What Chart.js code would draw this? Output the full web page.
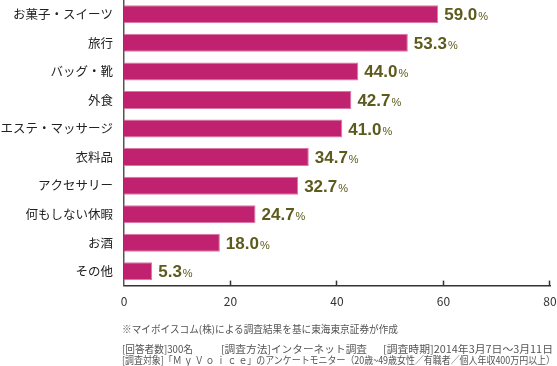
<!DOCTYPE html>
<html>
<head>
<meta charset="utf-8">
<script src="https://cdn.jsdelivr.net/npm/chart.js@4.4.1/dist/chart.umd.min.js"></script>
<style>
  html, body { margin: 0; padding: 0; background: #fff; }
  #wrap { position: relative; width: 557px; height: 366px; overflow: hidden; }
  #chart { position: absolute; left: 0; top: 0; }
  .note {
    position: absolute; white-space: nowrap; color: #555;
    font-family: "Noto Sans CJK JP", sans-serif; font-size: 10px; line-height: 12px;
    transform-origin: 0 50%;
  }
</style>
</head>
<body>
<div id="wrap">
  <canvas id="chart" width="557" height="366"></canvas>
  <div class="note" data-x="122" data-y="329" data-w="276">※マイボイスコム(株)による調査結果を基に東海東京証券が作成</div>
  <div class="note" data-x="122" data-y="349" data-w="71">[回答者数]300名</div>
  <div class="note" data-x="221" data-y="349" data-w="146">[調査方法]インターネット調査</div>
  <div class="note" data-x="383" data-y="349" data-w="170">[調査時期]2014年3月7日～3月11日</div>
  <div class="note" data-x="122" data-y="360" data-w="433">[調査対象]「Ｍ ｙ Ｖ ｏ ｉ ｃ ｅ」のアンケートモニター（20歳~49歳女性／有職者／個人年収400万円以上）</div>
</div>
<script>
// データ
const categories = ['お菓子・スイーツ', '旅行', 'バッグ・靴', '外食', 'エステ・マッサージ', '衣料品', 'アクセサリー', '何もしない休暇', 'お酒', 'その他'];
const values = [59.0, 53.3, 44.0, 42.7, 41.0, 34.7, 32.7, 24.7, 18.0, 5.3];
const xTicks = [0, 20, 40, 60, 80];

// 注記の位置合わせ
document.querySelectorAll('.note').forEach(function(el) {
    const w = el.getBoundingClientRect().width;
    const sx = parseFloat(el.dataset.w) / w;
    el.style.left = el.dataset.x + 'px';
    el.style.top = (parseFloat(el.dataset.y) - 6) + 'px';
    el.style.transform = 'scaleX(' + sx + ')';
});

// 軸の内側の目盛り
const innerTicks = {
    id: 'innerTicks',
    afterDraw(chart) {
        const ctx = chart.ctx;
        const xs = chart.scales.x;
        const bottom = chart.chartArea.bottom;
        ctx.save();
        ctx.strokeStyle = '#333';
        ctx.lineWidth = 1.5;
        xTicks.slice(1).forEach(function(v) {
            const px = Math.round(xs.getPixelForValue(v)) - 0.5;
            ctx.beginPath();
            ctx.moveTo(px, bottom);
            ctx.lineTo(px, bottom - 5);
            ctx.stroke();
        });
        ctx.restore();
    }
};

// 数値ラベル
const valueLabels = {
    id: 'valueLabels',
    afterDatasetsDraw(chart) {
        const ctx = chart.ctx;
        const meta = chart.getDatasetMeta(0);
        ctx.save();
        ctx.fillStyle = '#5c5a1c';
        ctx.textBaseline = 'alphabetic';
        ctx.textAlign = 'left';
        meta.data.forEach(function(bar, i) {
            const x = bar.x + 6;
            const y = bar.y + 6;
            ctx.font = 'bold 17px "Liberation Sans", Arial, sans-serif';
            const txt = values[i].toFixed(1);
            ctx.fillText(txt, x, y);
            const w = ctx.measureText(txt).width;
            ctx.font = '11px "Liberation Sans", Arial, sans-serif';
            ctx.fillText('%', x + w + 1, y);
        });
        ctx.restore();
    }
};

new Chart(document.getElementById('chart'), {
    type: 'bar',
    data: {
        labels: categories,
        datasets: [{
            data: values,
            backgroundColor: '#c0226f',
            borderColor: '#d977a6',
            borderWidth: 1,
            borderSkipped: 'left',
            barPercentage: 0.63,
            categoryPercentage: 1
        }]
    },
    options: {
        indexAxis: 'y',
        responsive: false,
        animation: false,
        layout: { padding: { left: 0, right: 7, top: 0, bottom: 0 } },
        plugins: { legend: { display: false }, tooltip: { enabled: false } },
        scales: {
            x: {
                min: 0,
                max: 80,
                afterBuildTicks(scale) { scale.ticks = xTicks.map(v => ({ value: v })); },
                afterFit(scale) {
                    scale.height = 80.4;
                    scale.paddingLeft = 0;
                    scale.paddingRight = 0;
                },
                grid: { display: false, drawTicks: false },
                border: { display: true, color: '#333', width: 1.5 },
                ticks: {
                    padding: 9,
                    color: '#333',
                    font: { family: '"Noto Sans CJK JP", sans-serif', size: 12 }
                }
            },
            y: {
                afterFit(scale) {
                    scale.width = 124;
                    scale.paddingTop = 0;
                    scale.paddingBottom = 0;
                },
                grid: { display: false, drawTicks: false },
                border: { display: true, color: '#555', width: 1.5 },
                ticks: {
                    padding: 11,
                    color: '#222',
                    font: { family: '"Noto Sans CJK JP", sans-serif', size: 12.5 }
                }
            }
        }
    },
    plugins: [innerTicks, valueLabels]
});
</script>
</body>
</html>
